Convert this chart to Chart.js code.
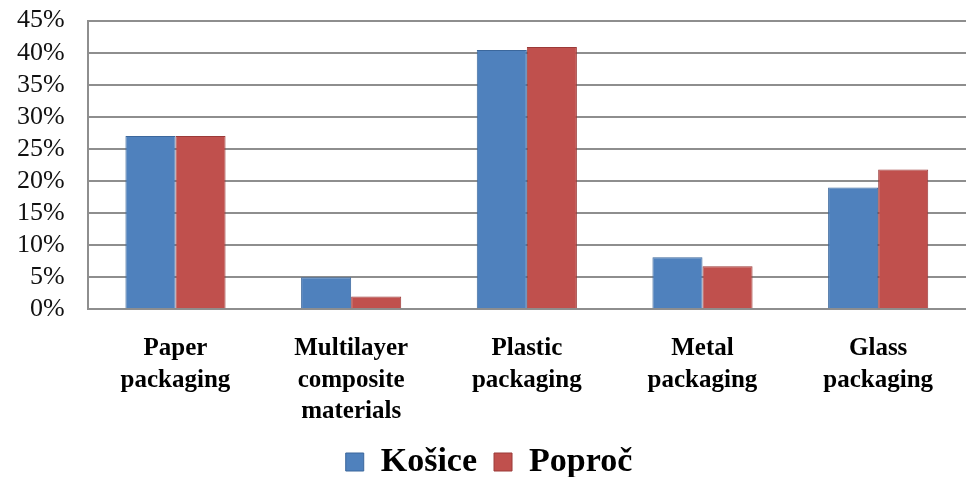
<!DOCTYPE html>
<html>
<head>
<meta charset="utf-8">
<script src="https://cdn.jsdelivr.net/npm/chart.js@4"></script>
<style>
  html, body { margin: 0; padding: 0; background: #fff; }
  #wrap { width: 967px; height: 477px; }
</style>
</head>
<body>
<div id="wrap"><canvas id="packaging-chart" width="967" height="477"></canvas></div>
<script>
const categories = [
    ['Paper', 'packaging'],
    ['Multilayer', 'composite', 'materials'],
    ['Plastic', 'packaging'],
    ['Metal', 'packaging'],
    ['Glass', 'packaging']
];
const kosice = [27, 5, 40.4, 8.1, 19];
const poproc = [27, 2, 40.9, 6.7, 21.8];
const yTicks = [0, 5, 10, 15, 20, 25, 30, 35, 40, 45];

const serif = "'Liberation Serif', 'Times New Roman', serif";

const ctx = document.getElementById('packaging-chart').getContext('2d');
new Chart(ctx, {
    type: 'bar',
    data: {
        labels: categories,
        datasets: [{
            label: 'Košice',
            data: kosice,
            backgroundColor: '#4F81BD',
            borderColor: '#3B679C',
            borderWidth: 1
        }, {
            label: 'Poproč',
            data: poproc,
            backgroundColor: '#C0504D',
            borderColor: '#9B3A38',
            borderWidth: 1
        }]
    },
    options: {
        responsive: false,
        animation: false,
        layout: { padding: { top: 0, right: 1, left: 12, bottom: -12 } },
        datasets: {
            bar: { categoryPercentage: 0.57, barPercentage: 1.0 }
        },
        plugins: {
            tooltip: { enabled: false },
            legend: {
                position: 'bottom',
                labels: {
                    color: '#000',
                    font: { family: serif, size: 34, weight: 'bold' },
                    boxWidth: 18,
                    boxHeight: 18,
                    padding: 17
                }
            }
        },
        scales: {
            x: {
                // trim the empty band under the category labels
                afterFit: axis => { axis.height -= 23; },
                grid: { display: false, drawTicks: false },
                border: { display: false },
                ticks: {
                    color: '#000',
                    padding: 24,
                    maxRotation: 0,
                    autoSkip: false,
                    font: { family: serif, size: 25, weight: 'bold', lineHeight: 1.25 }
                }
            },
            y: {
                min: 0,
                max: 45,
                afterBuildTicks: axis => {
                    axis.ticks = yTicks.map(v => ({ value: v }));
                },
                grid: {
                    color: '#8e8e8e',
                    lineWidth: 2,
                    drawTicks: true,
                    tickLength: 18,
                    tickColor: 'rgba(0,0,0,0)'
                },
                border: { display: true, color: '#8e8e8e', width: 2 },
                ticks: {
                    color: '#111',
                    padding: 5,
                    autoSkip: false,
                    font: { family: serif, size: 26 },
                    callback: v => v + '%'
                }
            }
        }
    }
});
</script>
</body>
</html>
